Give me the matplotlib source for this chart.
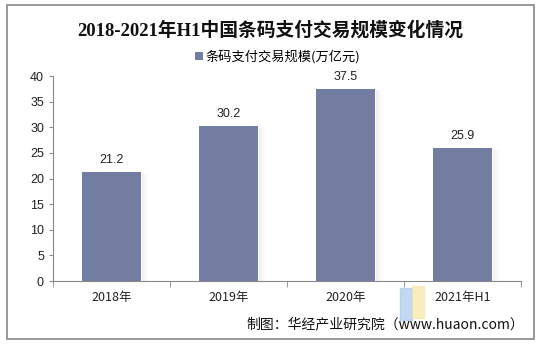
import matplotlib
matplotlib.use("Agg")
import matplotlib.pyplot as plt
from matplotlib.patches import Rectangle

plt.rcParams['font.family'] = ['Noto Sans CJK SC', 'DejaVu Sans']

# data
years = ['2018年', '2019年', '2020年', '2021年H1']
values = [21.2, 30.2, 37.5, 25.9]
series_name = '条码支付交易规模(万亿元)'
title = '2018-2021年H1中国条码支付交易规模变化情况'
source = '制图：华经产业研究院（www.huaon.com）'

bar_color = '#737ca1'

fig = plt.figure(figsize=(5.43, 3.45), dpi=100)
ax = fig.add_axes([0.0976, 0.1855, 0.862, 0.594])

x = range(len(years))
# soft shadow on right of bars
for xi, v in zip(x, values):
    for k, a in enumerate([0.12, 0.07, 0.03]):
        ax.bar(xi + 0.26 + 0.018 * k, v - 0.3, width=0.02, color='gray', alpha=a,
               linewidth=0, zorder=1, align='edge')
bars = ax.bar(x, values, width=0.5, color=bar_color, zorder=2, label=series_name)

for xi, v in zip(x, values):
    ax.text(xi, v + 2.35, f'{v:.1f}', ha='center', va='center', fontsize=9,
            color='#222222', family=['Liberation Sans', 'DejaVu Sans'])

ax.set_xlim(-0.5, len(years) - 0.5)
ax.set_ylim(0, 40)
ax.set_yticks(range(0, 41, 5))
ax.set_xticks(list(x))
ax.set_xticklabels(years)
for lab in ax.get_yticklabels():
    lab.set_family(['Liberation Sans', 'DejaVu Sans'])
ax.tick_params(axis='both', labelsize=9, colors='#222222', length=3, color='#888888')
ax.tick_params(axis='x', length=0, pad=7)
# category separators as minor ticks
ax.set_xticks([i - 0.5 for i in range(len(years) + 1)], minor=True)
ax.tick_params(axis='x', which='minor', length=4, color='#888888')
for s in ['top', 'right']:
    ax.spines[s].set_visible(False)
ax.spines['left'].set_color('#888888')
ax.spines['bottom'].set_color('#888888')

fig.text(0.498, 1 - 30 / 345, title, ha='center', va='center', fontsize=13.5,
         fontweight='bold', color='#111111',
         family=['Liberation Serif', 'Noto Sans CJK SC'])
leg = fig.legend(handles=[bars], labels=[series_name], loc='center',
                 bbox_to_anchor=(0.512, 1 - 57 / 345), frameon=False, fontsize=9.5,
                 handlelength=0.55, handleheight=0.55, handletextpad=0.25)

# faint logo watermark
fig.patches.append(Rectangle((400 / 543, 1 - 320 / 345), 12 / 543, 32 / 345,
                             transform=fig.transFigure, color='#a9c8ee', alpha=0.7))
fig.patches.append(Rectangle((412 / 543, 1 - 318 / 345), 12 / 543, 32 / 345,
                             transform=fig.transFigure, color='#f7e6a6', alpha=0.7))

fig.text(524 / 543, 1 - 324 / 345, source, ha='right', va='center', fontsize=10,
         color='#111111')

# outer border
fig.patches.append(Rectangle((7 / 543, 1 - 339 / 345), (534 - 7) / 543, (339 - 5) / 345,
                             transform=fig.transFigure, fill=False,
                             edgecolor='#888888', linewidth=1.2))

fig.savefig('out.png', dpi=100)
